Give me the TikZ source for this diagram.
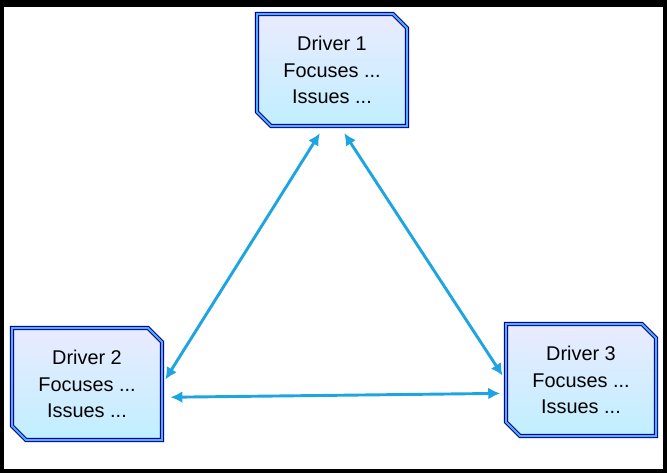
\documentclass[tikz,border=0pt]{standalone}
\usepackage{fontspec}
\setmainfont{Liberation Sans}
\usetikzlibrary{arrows.meta, positioning, shapes.misc}
\definecolor{linkblue}{RGB}{30,165,225}
\begin{document}
\begin{tikzpicture}[
                      x=0.0265cm, y=-0.0265cm,
                      >={Latex[length=9pt,width=9pt]},
                  ]
                  \tikzset{
                      driver/.style = {chamfered rectangle, chamfered rectangle corners={north east, south west},
                          chamfered rectangle xsep=7pt, draw=blue!50!black, double=blue!45!cyan!70!white, double distance=1.5pt,
                          line width=0.8pt, top color=blue!8, bottom color=blue!25!cyan!25,
                          minimum width=150*0.0265cm, minimum height=112*0.0265cm, align=center,
                          font=\fontsize{15}{20}\selectfont, inner sep=2pt},
                      link/.style = {<->, line width=2.2pt, linkblue, shorten <=6pt, shorten >=4pt},
                  }

                  % Frame
                  \fill[black] (0,0) rectangle (667,473);
                  \fill[white] (4,7) rectangle (663,469);

                  % Drivers
                  \node[driver] (d1) at (332,70) {Driver 1\\Focuses ...\\Issues ...};
                  \node[driver] (d2) at (87,384) {Driver 2\\Focuses ...\\Issues ...};
                  \node[driver] (d3) at (581,380) {Driver 3\\Focuses ...\\Issues ...};

                  % Links
                  \draw[link] (d1.262) -- (d2.east);
                  \draw[link] (d1.278) -- (d3.west);
                  \draw[link] (d2.-10) -- (d3.-170);

              \end{tikzpicture}
\end{document}
